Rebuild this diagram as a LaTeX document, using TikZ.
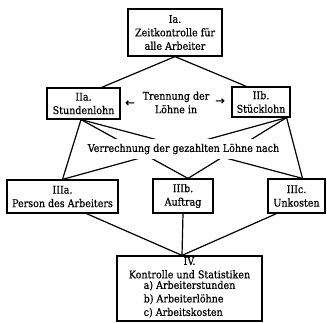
\documentclass[tikz,border=0pt]{standalone}
\usepackage{fontspec}
\setmainfont{DejaVu Serif Condensed}[FakeBold=0.6]
\newfontfamily\arrowfont{DejaVu Sans}[FakeBold=0.3]
\usetikzlibrary{calc}
\begin{document}
\begin{tikzpicture}[x=1pt,y=-1pt,
  every node/.style={font=\fontsize{10.6}{13.5}\selectfont},
  box/.style={draw, line width=1.2pt, align=center, inner sep=0pt},
  link/.style={line width=1.2pt},
  lbl/.style={align=center, inner sep=0pt},
  gap/.style={align=center, fill=white, inner xsep=3pt, inner ysep=5pt}]
\useasboundingbox (0,0) rectangle (327,322);

% boxes
\node[box, minimum width=94pt, minimum height=47pt] (Ia) at (175,32.5)
  {Ia.\\Zeitkontrolle für\\alle Arbeiter};
\node[box, minimum width=73pt, minimum height=31pt] (IIa) at (83.5,103.5)
  {IIa.\\Stundenlohn};
\node[box, minimum width=58pt, minimum height=30pt] (IIb) at (261,102)
  {IIb.\\Stücklohn};
\node[box, minimum width=111pt, minimum height=33pt] (IIIa) at (62.5,196.5)
  {IIIa.\\Person des Arbeiters};
\node[box, minimum width=60pt, minimum height=34pt] (IIIb) at (183,196)
  {IIIb.\\Auftrag};
\node[box, minimum width=57pt, minimum height=34pt] (IIIc) at (296.5,196)
  {IIIc.\\Unkosten};
\node[box, minimum width=145pt, minimum height=65pt] (IV) at (189.5,288.5)
  {IV.\\Kontrolle und Statistiken\\
   \begin{tabular}{@{}l@{}}a) Arbeiterstunden\\b) Arbeiterlöhne\\c) Arbeitskosten\end{tabular}};

% text between the wage boxes
\node[lbl] (sep) at (176,102.5) {Trennung der\\Löhne in};
\node[lbl] (la) at (130,103.5) {\arrowfont\fontsize{11.5}{11.5}\selectfont ←};
\node[lbl] (ra) at (220,101.5) {\arrowfont\fontsize{11.5}{11.5}\selectfont →};

% connection points
\coordinate (a) at ($(IIa.south)+(-2.5,0)$);
\coordinate (b) at ($(IIb.south east)+(-4,0)$);
\coordinate (t3b) at ($(IIIb.north)+(5,0)$);
\coordinate (t3c) at ($(IIIc.north)+(6,0)$);
\coordinate (top4) at ($(IV.north)+(-7.5,0)$);

% connectors
\draw[link] (Ia.south) -- ($(IIa.north east)+(-19,0)$);
\draw[link] (Ia.south) -- ($(IIb.north west)+(15,0)$);
\draw[link] (a) -- (IIIa.north);
\draw[link] (a) -- (t3b);
\draw[link] (a) -- (t3c);
\draw[link] (b) -- (IIIa.north);
\draw[link] (b) -- (t3b);
\draw[link] (b) -- (t3c);
\draw[link] ($(IIIa.south)+(24,0)$) -- (top4);
\draw[link] (IIIb.south) -- (top4);
\draw[link] ($(IIIc.south)+(-20,0)$) -- (top4);

% label laid over the crossing lines
\node[gap] (calc) at (183.5,149) {Verrechnung der gezahlten Löhne nach};
\end{tikzpicture}
\end{document}
